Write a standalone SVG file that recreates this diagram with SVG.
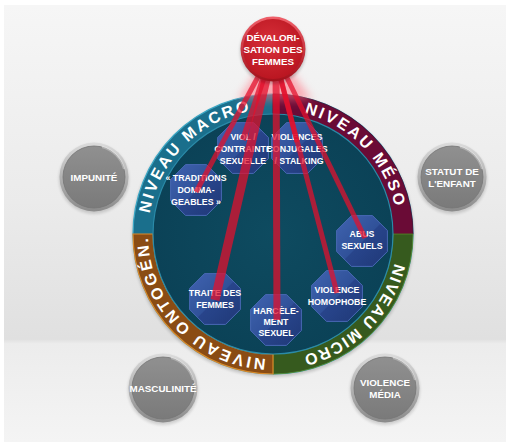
<svg xmlns="http://www.w3.org/2000/svg" width="510" height="446" viewBox="0 0 510 446">
<defs>
<linearGradient id="bg" x1="0" y1="0" x2="0" y2="1">
<stop offset="0" stop-color="#f6f6f6"/><stop offset="0.45" stop-color="#ebebeb"/><stop offset="0.765" stop-color="#e0e0e0"/><stop offset="0.775" stop-color="#ececec"/><stop offset="1" stop-color="#f4f4f4"/>
</linearGradient>
<linearGradient id="grayRim" x1="0" y1="0" x2="0" y2="1"><stop offset="0" stop-color="#dcdcdc"/><stop offset="1" stop-color="#8a8a8a"/></linearGradient>
<linearGradient id="grayFill" x1="0" y1="0" x2="0" y2="1"><stop offset="0" stop-color="#909090"/><stop offset="1" stop-color="#7a7a7a"/></linearGradient>
<linearGradient id="redRim" x1="0" y1="0" x2="0" y2="1"><stop offset="0" stop-color="#f0606a"/><stop offset="1" stop-color="#a0101a"/></linearGradient>
<radialGradient id="redFill" cx="0.45" cy="0.4" r="0.65"><stop offset="0" stop-color="#d8303a"/><stop offset="1" stop-color="#b8141f"/></radialGradient>
<linearGradient id="octGrad" x1="0" y1="0" x2="1" y2="1"><stop offset="0" stop-color="#4466b8"/><stop offset="0.5" stop-color="#34539f"/><stop offset="0.52" stop-color="#2b4590"/><stop offset="1" stop-color="#22387a"/></linearGradient>
<radialGradient id="disk" cx="0.5" cy="0.5" r="0.5"><stop offset="0" stop-color="#0e4b60"/><stop offset="1" stop-color="#0b4257"/></radialGradient>
<filter id="glow" x="-50%" y="-50%" width="200%" height="200%"><feGaussianBlur stdDeviation="4"/></filter>
<filter id="shadow" x="-30%" y="-30%" width="160%" height="160%"><feGaussianBlur stdDeviation="1.5"/></filter>
<polygon id="oct" points="25.4,10.5 10.5,25.4 -10.5,25.4 -25.4,10.5 -25.4,-10.5 -10.5,-25.4 10.5,-25.4 25.4,-10.5"/>
<path id="pMacro" d="M149.7,213.4 A125,125 0 0 1 334.6,125.2"/>
<path id="pMeso" d="M304.3,113 A125,125 0 0 1 386.8,285.8"/>
<path id="pMicro" d="M394.6,263.2 A125,125 0 0 1 204,338.2"/>
<path id="pOnto" d="M265.8,358.8 A125,125 0 0 1 168.5,165.4"/>
</defs>
<style>
.lbl{font-family:"Liberation Sans Narrow","Liberation Sans",Arial,sans-serif;font-weight:bold;fill:#ffffff;text-anchor:middle;font-size:8.8px}
.glbl{font-size:9.8px}
.ring{font-family:"Liberation Sans",Arial,sans-serif;font-weight:bold;fill:#ffffff;font-size:16px}
.octb{fill:url(#octGrad);stroke:#4e6cbc;stroke-width:1;opacity:0.92}
.beam{stroke:#e3102c;stroke-opacity:0.74;fill:none;stroke-linecap:butt}
</style>
<rect x="0" y="0" width="510" height="446" fill="#ffffff"/>
<rect x="4" y="5" width="502" height="437" fill="url(#bg)"/>

<g id="ring">
<circle cx="273" cy="236" r="141" fill="#000" opacity="0.18" filter="url(#shadow)"/>
<circle cx="273" cy="234" r="140" fill="#1a6f8c" stroke="#3aa6c4" stroke-width="1.2"/>
<path d="M273,94 A140,140 0 0 1 413,234 L393,234 A120,120 0 0 0 273,114 Z" fill="#6a0b36" stroke="#4a0626" stroke-width="0.8"/>
<path d="M413,234 A140,140 0 0 1 273,374 L273,354 A120,120 0 0 0 393,234 Z" fill="#365a1e" stroke="#5a8a2a" stroke-width="0.8"/>
<path d="M273,374 A140,140 0 0 1 133,234 L153,234 A120,120 0 0 0 273,354 Z" fill="#8a4c14" stroke="#d9892a" stroke-width="1.2"/>
<circle cx="273" cy="234" r="120" fill="url(#disk)" stroke="#2a8aa8" stroke-width="1.2"/>
<text class="ring" letter-spacing="2.4"><textPath href="#pMacro">NIVEAU MACRO</textPath></text>
<text class="ring" letter-spacing="2.45"><textPath href="#pMeso">NIVEAU MÉSO</textPath></text>
<text class="ring" letter-spacing="1.6"><textPath href="#pMicro">NIVEAU MICRO</textPath></text>
<text class="ring" letter-spacing="2.5"><textPath href="#pOnto">NIVEAU ONTOGÉN.</textPath></text>
</g>

<g id="n-viol" transform="translate(243,148)"><use href="#oct" class="octb"/><text class="lbl" y="-8">VIOL /</text><text class="lbl" y="4">CONTRAINTE</text><text class="lbl" y="16">SEXUELLE</text></g>
<g id="n-conj" transform="translate(297,148)"><use href="#oct" class="octb"/><text class="lbl" y="-8">VIOLENCES</text><text class="lbl" y="4">CONJUGALES</text><text class="lbl" x="2" y="16">/ STALKING</text></g>
<g id="n-trad" transform="translate(196,190)"><use href="#oct" class="octb"/><text class="lbl" y="-9">« TRADITIONS</text><text class="lbl" y="3">DOMMA-</text><text class="lbl" y="15">GEABLES »</text></g>
<g id="n-abus" transform="translate(362,241)"><use href="#oct" class="octb"/><text class="lbl" y="-4">ABUS</text><text class="lbl" y="8">SEXUELS</text></g>
<g id="n-homo" transform="translate(337,296)"><use href="#oct" class="octb"/><text class="lbl" y="-3">VIOLENCE</text><text class="lbl" y="9">HOMOPHOBE</text></g>
<g id="n-traite" transform="translate(215,299)"><use href="#oct" class="octb"/><text class="lbl" y="-3">TRAITE DES</text><text class="lbl" y="9">FEMMES</text></g>
<g id="n-harc" transform="translate(276,320)"><use href="#oct" class="octb"/><text class="lbl" y="-6">HARCÈLE-</text><text class="lbl" y="5">MENT</text><text class="lbl" y="16">SEXUEL</text></g>

<g id="connectors">
<path d="M258,70 L238,100 L312,100 L290,70 Z" fill="#ff7080" opacity="0.55" filter="url(#glow)"/>
<line class="beam" x1="273" y1="49" x2="196" y2="192" stroke-width="5"/>
<line class="beam" x1="273" y1="49" x2="243" y2="140" stroke-width="6"/>
<line class="beam" x1="273" y1="49" x2="215" y2="300" stroke-width="9"/>
<line class="beam" x1="276" y1="49" x2="277" y2="320" stroke-width="7"/>
<line class="beam" x1="273" y1="49" x2="297" y2="142" stroke-width="5"/>
<line class="beam" x1="273" y1="49" x2="337" y2="293" stroke-width="5"/>
<line class="beam" x1="273" y1="49" x2="365" y2="238" stroke-width="5"/>
</g>

<g id="n-deval" transform="translate(273,49)">
<circle r="33" cy="2" fill="#000" opacity="0.2" filter="url(#shadow)"/>
<circle r="32.5" fill="url(#redRim)"/>
<circle r="30" fill="url(#redFill)"/>
<text class="lbl glbl" y="-8.5">DÉVALORI-</text><text class="lbl glbl" y="3.5">SATION DES</text><text class="lbl glbl" y="15.5">FEMMES</text>
</g>

<g id="n-impunite" transform="translate(94,177)">
<circle r="35" cy="2" fill="#000" opacity="0.15" filter="url(#shadow)"/>
<circle r="34.5" fill="url(#grayRim)"/><circle r="31" fill="url(#grayFill)" stroke="#767676" stroke-width="0.8"/>
<path d="M8,-30 A31,31 0 0 1 30,-8" stroke="#ffffff" stroke-opacity="0.35" stroke-width="2" fill="none"/>
<text class="lbl glbl" y="3.5">IMPUNITÉ</text>
</g>
<g id="n-statut" transform="translate(452,177)">
<circle r="35" cy="2" fill="#000" opacity="0.15" filter="url(#shadow)"/>
<circle r="34.5" fill="url(#grayRim)"/><circle r="31" fill="url(#grayFill)" stroke="#767676" stroke-width="0.8"/>
<path d="M8,-30 A31,31 0 0 1 30,-8" stroke="#ffffff" stroke-opacity="0.35" stroke-width="2" fill="none"/>
<text class="lbl glbl" y="-2">STATUT DE</text><text class="lbl glbl" y="10">L'ENFANT</text>
</g>
<g id="n-masc" transform="translate(163,388)">
<circle r="35" cy="2" fill="#000" opacity="0.15" filter="url(#shadow)"/>
<circle r="34.5" fill="url(#grayRim)"/><circle r="31" fill="url(#grayFill)" stroke="#767676" stroke-width="0.8"/>
<path d="M8,-30 A31,31 0 0 1 30,-8" stroke="#ffffff" stroke-opacity="0.35" stroke-width="2" fill="none"/>
<text class="lbl glbl" y="3.5">MASCULINITÉ</text>
</g>
<g id="n-media" transform="translate(385,388)">
<circle r="35" cy="2" fill="#000" opacity="0.15" filter="url(#shadow)"/>
<circle r="34.5" fill="url(#grayRim)"/><circle r="31" fill="url(#grayFill)" stroke="#767676" stroke-width="0.8"/>
<path d="M8,-30 A31,31 0 0 1 30,-8" stroke="#ffffff" stroke-opacity="0.35" stroke-width="2" fill="none"/>
<text class="lbl glbl" y="-2.5">VIOLENCE</text><text class="lbl glbl" y="10">MÉDIA</text>
</g>
</svg>
